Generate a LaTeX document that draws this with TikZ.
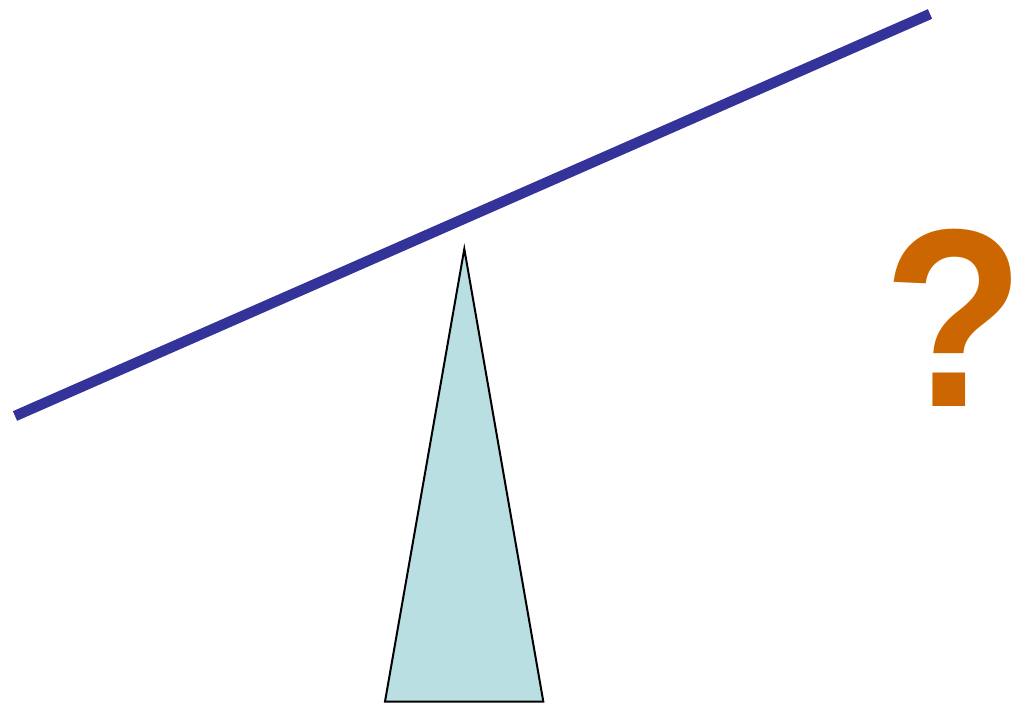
\documentclass[tikz,border=0pt]{standalone}
\usepackage{fontspec}
\setmainfont{Liberation Sans}
\definecolor{beamblue}{RGB}{51,51,153}
\definecolor{fulcrumfill}{RGB}{186,223,226}
\definecolor{qorange}{RGB}{204,102,0}
\tikzset{
  beam/.style={draw=beamblue, line width=10.5pt},
  fulcrum/.style={draw=black, fill=fulcrumfill, line width=2pt, line join=miter},
  qmark/.style={text=qorange, font=\fontsize{254}{254}\selectfont\bfseries, inner sep=0pt, anchor=base, xscale=0.91}
}
\begin{document}
\begin{tikzpicture}[x=1pt,y=-1pt]
\useasboundingbox (0,0) rectangle (1017,703);
\coordinate (bl) at (15,416);
\coordinate (br) at (930,14);
\draw[beam] (bl) -- (br);
\coordinate (apex) at (464.3,249);
\coordinate (baseL) at (385,701.5);
\coordinate (baseR) at (543.3,701.5);
\draw[fulcrum] (apex) -- (baseL) -- (baseR) -- cycle;
\node[qmark] (q) at (954.5,406) {?};
\end{tikzpicture}
\end{document}
